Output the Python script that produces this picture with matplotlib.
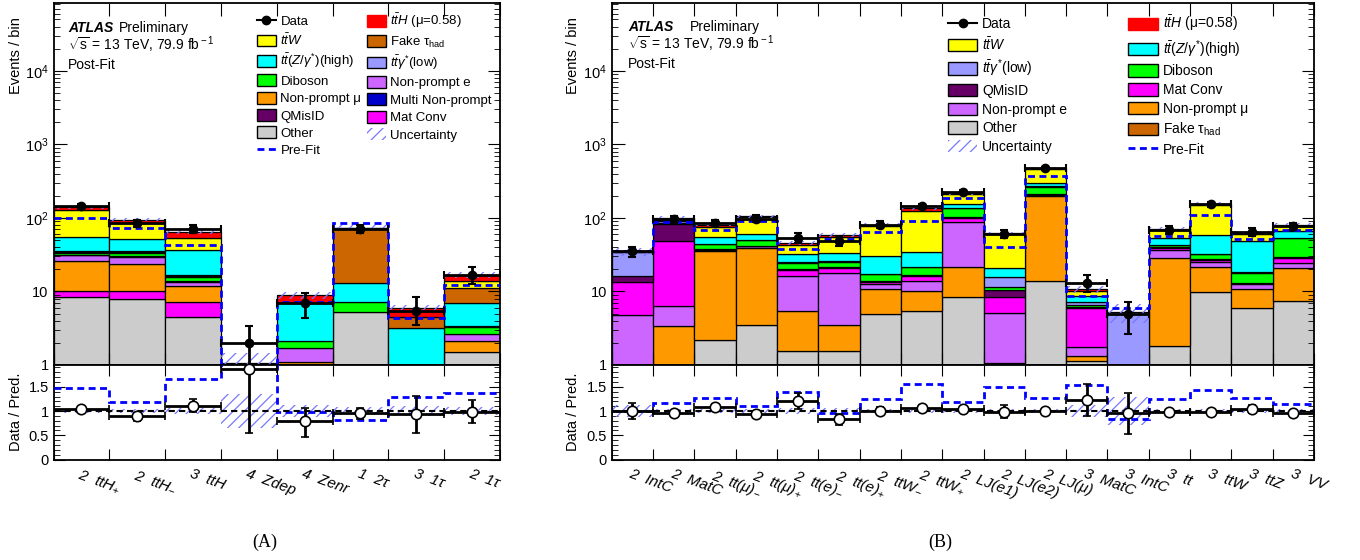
import matplotlib
matplotlib.use("Agg")
import matplotlib.pyplot as plt
import matplotlib.transforms as mtransforms
import numpy as np
from matplotlib.patches import Patch
from matplotlib.lines import Line2D
from matplotlib.ticker import FixedLocator, FuncFormatter, LogLocator, NullFormatter, MultipleLocator

plt.rcParams['font.family'] = ['Liberation Sans', 'DejaVu Sans']
plt.rcParams['mathtext.fontset'] = 'custom'
plt.rcParams['mathtext.rm'] = 'Liberation Sans'
plt.rcParams['mathtext.it'] = 'Liberation Sans:italic'
plt.rcParams['mathtext.bf'] = 'Liberation Sans:bold'
plt.rcParams['hatch.linewidth'] = 0.9
plt.rcParams['axes.linewidth'] = 1.3

# ---------------- panel (A) ----------------
cats_a = [r"2  ttH$_{+}$", r"2  ttH$_{-}$", "3  ttH", "4  Zdep", "4  Zenr",
          "1  2τ", "3  1τ", "2  1τ"]
a_other    = [8.3, 7.8, 4.5, 0.45, 0, 5.3, 0, 1.49]
a_matconv  = [2.0, 2.5, 2.6, 0, 0, 0, 0, 0]
a_npmu     = [16.0, 13.4, 4.9, 0, 1.1, 0, 0, 0.65]
a_npe      = [4.7, 6.1, 1.5, 0.55, 0.59, 0, 0, 0.46]
a_multinp  = [0.3, 0.3, 0.2, 0, 0, 0, 0, 0]
a_diboson  = [2.4, 2.9, 1.9, 0, 0.45, 2.0, 0, 0.65]
a_qmisid   = [0.8, 1.0, 0.4, 0, 0, 0, 0, 0.15]
a_ttgamma  = [1.0, 1.0, 0.5, 0, 0, 0, 0, 0]
a_ttz      = [18.7, 16.3, 20.2, 0.02, 4.86, 5.9, 3.16, 3.6]
a_faketau  = [0, 0, 0, 0, 0, 59.2, 1.34, 4.0]
a_ttw      = [73.4, 33.4, 16.3, 0, 0, 0, 0, 3.0]
a_tth      = [12.0, 9.7, 12.0, 0.05, 1.9, 1.6, 1.4, 2.8]
a_data     = [145, 85, 71, 2, 7.0, 71, 5.5, 17]
a_data_lo  = [12, 9.2, 8.4, 1.3, 2.7, 8.4, 2.0, 4.4]
a_data_hi  = [12, 9.2, 8.4, 1.4, 2.6, 8.4, 3.0, 4.3]
a_prefit   = [99, 73, 43, 0.91, 7.2, 86.5, 4.4, 12.4]
a_unc      = [0.05, 0.05, 0.07, 0.35, 0.12, 0.08, 0.10, 0.09]
a_ratio    = [1.04, 0.90, 1.11, 1.86, 0.79, 0.95, 0.93, 0.99]
a_ratio_lo = [0.07, 0.11, 0.14, 1.32, 0.32, 0.11, 0.39, 0.24]
a_ratio_hi = [0.05, 0.05, 0.13, 0.60, 0.28, 0.12, 0.39, 0.23]
a_ratio_pf = [1.47, 1.18, 1.66, 2.20, 0.97, 0.82, 1.29, 1.38]

# ---------------- panel (B) ----------------
cats_b = ["2  IntC", "2  MatC", r"2  tt(μ)$_{-}$", r"2  tt(μ)$_{+}$", r"2  tt(e)$_{-}$",
          r"2  tt(e)$_{+}$", r"2  ttW$_{-}$", r"2  ttW$_{+}$", "2  LJ(e1)", "2  LJ(e2)",
          "2  LJ(μ)", "3  MatC", "3  IntC", "3  tt", "3  ttW", "3  ttZ", "3  VV"]
b_other    = [0, 0, 2.17, 3.53, 1.55, 1.56, 4.87, 5.46, 8.35, 0, 13.7, 1.14, 0, 1.82, 9.75, 6.0, 7.37]
b_npmu     = [0, 3.36, 33.3, 35.9, 3.8, 1.9, 5.9, 4.84, 12.85, 1.05, 182, 0.18, 0, 26.5, 11.45, 4.8, 13.8]
b_npe      = [4.82, 3.08, 1.1, 1.6, 10.65, 14.3, 2.0, 3.7, 67.1, 4.08, 8, 0.45, 0, 8.3, 4.1, 1.8, 3.5]
b_matconv  = [8.5, 42, 0.4, 0.4, 3.5, 2.9, 0.8, 2.2, 11.7, 3.22, 2, 4.23, 0, 2.0, 1.2, 0.3, 4.2]
b_qmisid   = [2.7, 34.6, 0.6, 0.6, 0.7, 0.6, 0.4, 0.4, 3.0, 2.15, 5.3, 0.1, 0, 1.4, 0.8, 0.3, 0.3]
b_diboson  = [0, 1.5, 6.1, 7.5, 4.5, 4.2, 3.2, 4.6, 33, 0.9, 56, 0.5, 0, 2.8, 4.7, 4.9, 23.4]
b_ttgamma  = [18.4, 5.0, 0.4, 0.3, 0.5, 0.5, 0.3, 0.4, 1.0, 4.1, 5, 0.5, 5.2, 0.5, 0.5, 0.4, 0.5]
b_ttz      = [0.3, 3.0, 10.8, 9.8, 6.8, 7.7, 12.9, 12.8, 19, 5.2, 25, 1.7, 0, 10.4, 25.3, 30, 13]
b_faketau  = [0] * 17
b_ttw      = [0, 5.0, 19.9, 43.4, 10.4, 21.2, 46.8, 91.2, 55, 38.9, 165, 1.5, 0, 14.5, 94, 11.1, 11.1]
b_tth      = [0.3, 2.5, 6.5, 3.0, 3.1, 3.5, 3.5, 9.4, 6, 2.4, 10, 0.4, 0, 2.8, 3.0, 3.5, 3.0]
b_data     = [35, 96, 86, 98, 54, 49, 81, 144, 224, 61, 472, 13.0, 4.95, 69, 154, 65, 77]
b_data_lo  = [5.5, 10, 9, 10, 8.5, 7.5, 9, 12, 15, 8, 22, 3.2, 2.3, 8.3, 12.4, 8, 8.7]
b_data_hi  = [5.5, 10, 9, 10, 8.5, 7.5, 9, 12, 15, 8, 22, 3.8, 2.2, 8.3, 12.4, 8, 8.7]
b_prefit   = [35.5, 86.7, 67.5, 90, 38.2, 52, 64, 92, 186, 40.6, 372, 8.6, 6.0, 56.6, 111, 52, 69.6]
b_unc      = [0.13, 0.05, 0.05, 0.05, 0.06, 0.06, 0.05, 0.05, 0.04, 0.05, 0.04, 0.12, 0.28, 0.05, 0.05, 0.05, 0.05]
b_ratio    = [1.0, 0.95, 1.09, 0.93, 1.21, 0.83, 1.01, 1.07, 1.04, 0.99, 1.0, 1.22, 0.95, 0.97, 0.99, 1.04, 0.96]
b_ratio_er = [0.17, 0.04, 0.06, 0.04, 0.16, 0.11, 0.07, 0.05, 0.03, 0.14, 0.02, 0.33, 0.43, 0.06, 0.03, 0.08, 0.05]
b_ratio_pf = [1.0, 1.17, 1.27, 1.11, 1.40, 0.95, 1.24, 1.56, 1.19, 1.50, 1.27, 1.53, 0.84, 1.24, 1.43, 1.27, 1.14]

colors = {
    'tth': '#ff0000', 'ttw': '#ffff00', 'ttz': '#00ffff', 'ttgamma': '#9999ff',
    'diboson': '#00ff00', 'qmisid': '#660066', 'matconv': '#ff00ff',
    'npe': '#cc66ff', 'npmu': '#ff9900', 'other': '#cccccc', 'faketau': '#cc6600',
    'multinp': '#0000cc',
}
HATCH = '#7777ff'

names = {
    'tth': r"$t\bar{t}H$ (μ=0.58)", 'ttw': r"$t\bar{t}W$",
    'ttz': r"$t\bar{t}(Z/\gamma^{*})$(high)", 'ttgamma': r"$t\bar{t}\gamma^{*}$(low)",
    'diboson': "Diboson", 'qmisid': "QMisID", 'matconv': "Mat Conv",
    'npe': "Non-prompt e", 'npmu': "Non-prompt μ", 'other': "Other",
    'faketau': r"Fake τ$_{\rm had}$", 'multinp': "Multi Non-prompt",
}

stack_a = [('other', a_other), ('matconv', a_matconv), ('npmu', a_npmu), ('npe', a_npe),
           ('multinp', a_multinp), ('diboson', a_diboson), ('qmisid', a_qmisid),
           ('ttgamma', a_ttgamma), ('ttz', a_ttz), ('faketau', a_faketau),
           ('ttw', a_ttw), ('tth', a_tth)]
stack_b = [('other', b_other), ('npmu', b_npmu), ('npe', b_npe), ('matconv', b_matconv),
           ('qmisid', b_qmisid), ('diboson', b_diboson), ('ttgamma', b_ttgamma),
           ('ttz', b_ttz), ('faketau', b_faketau), ('ttw', b_ttw), ('tth', b_tth)]


def log_fmt(v, pos):
    if abs(v - 1) < 1e-9:
        return "1"
    if abs(v - 10) < 1e-6:
        return "10"
    return r"$10^{%d}$" % round(np.log10(v))


def draw(ax, rax, stack, data, dlo, dhi, prefit, unc, ratio, rlo, rhi, rpf, labels):
    n = len(data)
    x = np.arange(n)
    edges = np.arange(n + 1)
    unc = np.asarray(unc)
    bottom = np.zeros(n)
    for key, vals in stack:
        vals = np.asarray(vals, float)
        m = vals > 0
        if m.any():
            ax.bar(x[m], vals[m], width=1, bottom=bottom[m], align='edge',
                   color=colors[key], edgecolor='black', linewidth=0.9)
        bottom += vals
    total = bottom
    ax.bar(x, 2 * unc * total, bottom=total * (1 - unc), width=1, align='edge',
           fill=False, hatch='///', edgecolor=HATCH, linewidth=0, zorder=3)
    ax.stairs(prefit, edges, baseline=None, color='#0000ff', linestyle=(0, (2.5, 1.6)),
              linewidth=2, zorder=4)
    ax.errorbar(x + 0.5, data, yerr=[dlo, dhi], xerr=0.5, fmt='o', color='black',
                ms=6, elinewidth=2, capsize=3, capthick=1.5, zorder=5)

    ax.set_yscale('log')
    ax.set_xlim(0, n)
    ax.set_ylim(1, 8.3e4)
    ax.xaxis.set_major_locator(FixedLocator(edges))
    ax.xaxis.set_major_formatter(NullFormatter())
    ax.yaxis.set_major_locator(LogLocator(base=10, numticks=10))
    ax.yaxis.set_minor_locator(LogLocator(base=10, subs=np.arange(2, 10), numticks=20))
    ax.yaxis.set_major_formatter(FuncFormatter(log_fmt))
    ax.yaxis.set_minor_formatter(NullFormatter())
    ax.tick_params(which='both', direction='in', top=True, right=True, labelsize=10.5)
    ax.tick_params(which='major', length=9)
    ax.tick_params(which='minor', length=4.5)

    # ratio panel
    rax.bar(x, 2 * unc, bottom=1 - unc, width=1, align='edge', fill=False,
            hatch='///', edgecolor=HATCH, linewidth=0, zorder=2)
    rax.stairs(rpf, edges, baseline=None, color='#0000ff', linestyle=(0, (2.5, 1.6)),
               linewidth=2, zorder=3)
    rax.axhline(1, color='black', linestyle=(0, (3, 2)), linewidth=1.5, zorder=3)
    rax.errorbar(x + 0.5, ratio, yerr=[rlo, rhi], xerr=0.5, fmt='o', color='black',
                 mfc='white', mec='black', mew=1.2, ms=7.5, elinewidth=2, capsize=3,
                 capthick=1.5, zorder=5)
    rax.set_xlim(0, n)
    rax.set_ylim(0, 1.95)
    rax.xaxis.set_major_locator(FixedLocator(edges))
    rax.xaxis.set_major_formatter(NullFormatter())
    rax.yaxis.set_major_locator(FixedLocator([0, 0.5, 1, 1.5]))
    rax.yaxis.set_major_formatter(FuncFormatter(lambda v, p: "%g" % v))
    rax.yaxis.set_minor_locator(MultipleLocator(0.1))
    rax.tick_params(which='both', direction='in', top=True, right=True, labelsize=10.5)
    rax.tick_params(which='major', length=8)
    rax.tick_params(which='minor', length=4)

    trans = mtransforms.blended_transform_factory(rax.transData, rax.transAxes)
    for i, lab in enumerate(labels):
        rax.text(i + 0.5, -0.08, lab, transform=trans, ha='left', va='top',
                 rotation=-20, rotation_mode='anchor', fontsize=11, style='italic')


def patch(key):
    ec = colors[key] if key == 'tth' else 'black'
    return Patch(facecolor=colors[key], edgecolor=ec, linewidth=1.0, label=names[key])


h_data = Line2D([], [], color='black', marker='o', ms=6, lw=1.5, label="Data")
h_unc = Patch(facecolor='none', edgecolor=HATCH, hatch='///', linewidth=0, label="Uncertainty")
h_pre = Line2D([], [], color='#0000ff', linestyle=(0, (2.5, 1.6)), lw=2, label="Pre-Fit")

fig = plt.figure(figsize=(13.6, 5.6), dpi=100)
W, H = 1360.0, 560.0


def axes_px(x0, x1, y0, y1):
    return fig.add_axes([x0 / W, 1 - y1 / H, (x1 - x0) / W, (y1 - y0) / H])


ax_a = axes_px(53.5, 500, 3.3, 365)
rax_a = axes_px(53.5, 500, 365, 459.5)
ax_b = axes_px(611.7, 1314, 3.3, 365)
rax_b = axes_px(611.7, 1314, 365, 459.5)

draw(ax_a, rax_a, stack_a, a_data, a_data_lo, a_data_hi, a_prefit, a_unc,
     a_ratio, a_ratio_lo, a_ratio_hi, a_ratio_pf, cats_a)
draw(ax_b, rax_b, stack_b, b_data, b_data_lo, b_data_hi, b_prefit, b_unc,
     b_ratio, b_ratio_er, b_ratio_er, b_ratio_pf, cats_b)

for ax, rax, lx in [(ax_a, rax_a, -0.068), (ax_b, rax_b, -0.045)]:
    ax.set_ylabel("Events / bin", fontsize=10.5, loc='top')
    ax.yaxis.set_label_coords(lx, 0.962)
    rax.set_ylabel("Data / Pred.", fontsize=10.5)
    rax.yaxis.set_label_coords(lx, 0.5)

# ATLAS labels
ax_a.text(0.0325, 0.932, "ATLAS", transform=ax_a.transAxes, fontsize=10,
          fontweight='bold', style='italic', va='center')
ax_a.text(0.1467, 0.932, "Preliminary", transform=ax_a.transAxes, fontsize=10, va='center')
ax_a.text(0.0325, 0.885, r"$\sqrt{\rm s}$ = 13 TeV, 79.9 fb$^{\rm -1}$",
          transform=ax_a.transAxes, fontsize=10, va='center')
ax_a.text(0.0325, 0.829, "Post-Fit", transform=ax_a.transAxes, fontsize=10, va='center')

ax_b.text(0.0236, 0.935, "ATLAS", transform=ax_b.transAxes, fontsize=10,
          fontweight='bold', style='italic', va='center')
ax_b.text(0.1115, 0.935, "Preliminary", transform=ax_b.transAxes, fontsize=10, va='center')
ax_b.text(0.0236, 0.887, r"$\sqrt{\rm s}$ = 13 TeV, 79.9 fb$^{\rm -1}$",
          transform=ax_b.transAxes, fontsize=10, va='center')
ax_b.text(0.0236, 0.831, "Post-Fit", transform=ax_b.transAxes, fontsize=10, va='center')

# legends (column-major order)
leg_a = [h_data, patch('ttw'), patch('ttz'), patch('diboson'), patch('npmu'),
         patch('qmisid'), patch('other'), h_pre,
         patch('tth'), patch('faketau'), patch('ttgamma'), patch('npe'),
         patch('multinp'), patch('matconv'), h_unc]
ax_a.legend(handles=leg_a, ncol=2, loc='upper left', bbox_to_anchor=(0.455, 0.976),
            frameon=False, fontsize=9.5, borderpad=0, borderaxespad=0,
            handlelength=1.45, handleheight=1.0, handletextpad=0.35,
            labelspacing=0.3, columnspacing=0.4)

leg_b = [h_data, patch('ttw'), patch('ttgamma'), patch('qmisid'), patch('npe'),
         patch('other'), h_unc,
         patch('tth'), patch('ttz'), patch('diboson'), patch('matconv'),
         patch('npmu'), patch('faketau'), h_pre]
ax_b.legend(handles=leg_b, ncol=2, loc='upper left', bbox_to_anchor=(0.479, 0.971),
            frameon=False, fontsize=10, borderpad=0, borderaxespad=0,
            handlelength=2.1, handleheight=1.0, handletextpad=0.36,
            labelspacing=0.34, columnspacing=4.4)

fig.text(265 / W, 1 - 542 / H, "(A)", fontsize=13, family='Liberation Serif',
         ha='center', va='center')
fig.text(940 / W, 1 - 542 / H, "(B)", fontsize=13, family='Liberation Serif',
         ha='center', va='center')

fig.savefig("out.png", dpi=100)
